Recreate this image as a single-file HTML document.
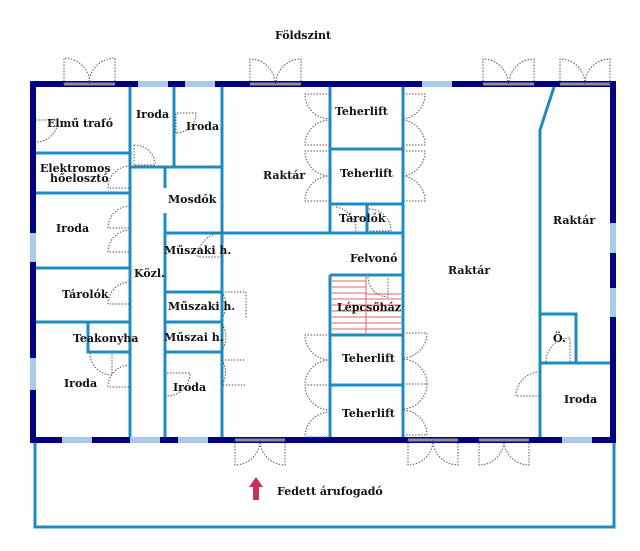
<!DOCTYPE html>
<html><head><meta charset="utf-8"><style>
html,body{margin:0;padding:0;background:#fff;}
svg{display:block}
text{font-family:"DejaVu Serif","Liberation Serif",serif;font-weight:bold;font-size:11px;fill:#111;}
.w{stroke:#1e8bc3;stroke-width:3;fill:none}
.d{stroke:#555;stroke-width:1;stroke-dasharray:1.5,1.5;fill:none}
.win{stroke:#a9cbe8;stroke-width:6}
.dg{stroke:#8c8c9c;stroke-width:3}
</style></head><body>
<svg width="640" height="551" viewBox="0 0 640 551" xmlns="http://www.w3.org/2000/svg">
<!-- canopy -->
<path class="w" d="M35 440 V527 H614 V440"/>
<!-- inner walls -->
<g class="w">
<path d="M130 84 V440"/>
<path d="M174 84 V167"/>
<path d="M130 167 H222"/>
<path d="M222 84 V440"/>
<path d="M165 167 V188 M165 213 V440"/>
<path d="M165 233 H403"/>
<path d="M35 153 H130 M35 193 H130 M35 268 H130 M35 322 H130"/>
<path d="M88 322 V352 H130"/>
<path d="M165 292 H222 M165 322 H222 M165 352 H222"/>
<path d="M330 84 V233 M403 84 V440"/>
<path d="M330 149 H403 M330 204 H403 M367 204 V233"/>
<path d="M330 275 H403 M330 275 V335 H403 M330 335 V440 M330 385 H403"/>
<path d="M555 84 L540 130 V440"/>
<path d="M540 314 H576 V363 M540 363 H613"/>
</g>
<!-- stairs -->
<g stroke="#d66" stroke-width="1">
<path d="M332 281 H366 M332 287 H366 M332 293 H366 M332 299 H401 M332 305 H401 M332 311 H401 M332 317 H401 M332 323 H401 M332 329 H401"/>
<path d="M366 275 V335 M366 294 H401"/>
</g>
<!-- outer walls -->
<path d="M33 440 V84 H613 V440 Z" stroke="#000080" stroke-width="6" fill="none"/>
<!-- windows -->
<g class="win">
<path d="M138 84 H168 M185 84 H215 M422 84 H452"/>
<path d="M62 440 H92 M130 440 H160 M178 440 H208 M562 440 H592"/>
<path d="M33 233 V262 M33 358 V390"/>
<path d="M613 223 V253 M613 288 V317"/>
</g>
<g class="dg">
<path d="M64 84 H115 M250 84 H301 M483 84 H534 M560 84 H610"/>
<path d="M235 440 H285 M408 440 H458 M479 440 H529"/>
</g>
<!-- doors -->
<g class="d">
<!-- top double doors -->
<path d="M64 84 V58 A26 26 0 0 1 90 84 M115 84 V58 A26 26 0 0 0 89 84"/>
<path d="M250 84 V59 A25 25 0 0 1 275 84 M301 84 V59 A25 25 0 0 0 276 84"/>
<path d="M483 84 V59 A25 25 0 0 1 508 84 M534 84 V59 A25 25 0 0 0 509 84"/>
<path d="M560 84 V59 A25 25 0 0 1 585 84 M610 84 V59 A25 25 0 0 0 585 84"/>
<!-- bottom double doors -->
<path d="M235 440 V465 A25 25 0 0 0 260 440 M285 440 V465 A25 25 0 0 1 260 440"/>
<path d="M408 440 V465 A25 25 0 0 0 433 440 M458 440 V465 A25 25 0 0 1 433 440"/>
<path d="M479 440 V465 A25 25 0 0 0 504 440 M529 440 V465 A25 25 0 0 1 504 440"/>
<!-- lift doors left of 330 -->
<path d="M330 94 H305 A25 25 0 0 0 330 119 M330 145 H305 A25 25 0 0 1 330 120"/>
<path d="M330 151 H305 A25 25 0 0 0 330 176 M330 201 H305 A25 25 0 0 1 330 176"/>
<path d="M330 335 H305 A25 25 0 0 0 330 360 M330 385 H305 A25 25 0 0 1 330 360"/>
<path d="M330 385 H305 A25 25 0 0 0 330 410 M330 437 H305 A25 25 0 0 1 330 412"/>
<!-- lift doors right of 403 -->
<path d="M403 94 H425 A25 25 0 0 1 403 119 M403 145 H425 A25 25 0 0 0 403 120"/>
<path d="M403 151 H425 A25 25 0 0 1 403 176 M403 201 H425 A25 25 0 0 0 403 176"/>
<path d="M403 333 H427 A25 25 0 0 1 403 358 M403 384 H427 A25 25 0 0 0 403 359"/>
<path d="M403 384 H427 A25 25 0 0 1 403 409 M403 435 H427 A25 25 0 0 0 403 410"/>
<!-- room doors -->
<path d="M36 120 H58 A22 22 0 0 1 36 142"/>
<path d="M134 145 V165 H155 A20 20 0 0 0 134 145"/>
<path d="M176 133 V113 H196 A20 20 0 0 1 176 133"/>
<path d="M130 166 A22 22 0 0 0 108 188 H130"/>
<path d="M130 206 A22 22 0 0 0 108 228 H130"/>
<path d="M130 230 A22 22 0 0 0 108 252 H130"/>
<path d="M130 282 A22 22 0 0 0 108 304 H130"/>
<path d="M90 353 A22 22 0 0 0 112 375 V353"/>
<path d="M130 365 A22 22 0 0 0 108 387 H130"/>
<path d="M222 233 A24 24 0 0 0 198 257 H222"/>
<path d="M222 292 A24 24 0 0 1 222 318 M222 324 A24 24 0 0 1 222 350 M222 292 H246 V318 M222 324 V350"/>
<path d="M222 360 A24 24 0 0 1 222 385 H246 M222 360 H246"/>
<path d="M167 373 H190 A23 23 0 0 1 167 396"/>
<path d="M336 207 A24 24 0 0 1 356 231 M369 209 A22 22 0 0 1 391 231 H369"/>
<path d="M368 277 A20 20 0 0 0 388 297 V277"/>
<path d="M540 372 A24 24 0 0 0 516 396 H540"/>
<path d="M546 362 A24 24 0 0 1 570 338 V362"/>
</g>
<!-- arrow -->
<path d="M256 477 L263 487 H259 V500 H253 V487 H249 Z" fill="#c8305c"/>
<!-- labels -->
<text x="275" y="39">Földszint</text>
<text x="47" y="127">Elmű trafó</text>
<text x="136" y="118">Iroda</text>
<text x="186" y="130">Iroda</text>
<text x="40" y="172">Elektromos</text>
<text x="50" y="182">hőelosztó</text>
<text x="56" y="232">Iroda</text>
<text x="168" y="203">Mosdók</text>
<text x="263" y="179">Raktár</text>
<text x="335" y="115">Teherlift</text>
<text x="340" y="177">Teherlift</text>
<text x="339" y="222">Tárolók</text>
<text x="553" y="224">Raktár</text>
<text x="448" y="274">Raktár</text>
<text x="350" y="262">Felvonó</text>
<text x="164" y="254">Műszaki h.</text>
<text x="134" y="277">Közl.</text>
<text x="62" y="298">Tárolók</text>
<text x="168" y="310">Műszaki h.</text>
<text x="337" y="311">Lépcsőház</text>
<text x="73" y="342">Teakonyha</text>
<text x="164" y="341">Műszai h.</text>
<text x="553" y="342">Ö.</text>
<text x="342" y="362">Teherlift</text>
<text x="64" y="387">Iroda</text>
<text x="173" y="391">Iroda</text>
<text x="564" y="403">Iroda</text>
<text x="342" y="417">Teherlift</text>
<text x="277" y="495">Fedett árufogadó</text>
</svg>
</body></html>
